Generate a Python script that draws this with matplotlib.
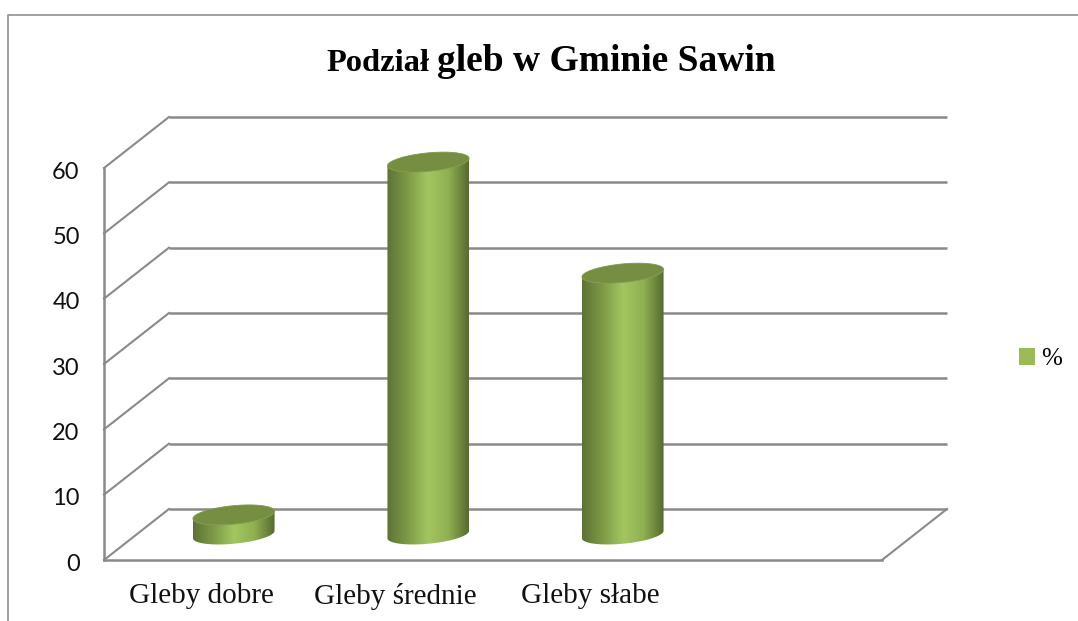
import matplotlib
matplotlib.use("Agg")
import matplotlib.pyplot as plt
import numpy as np
from matplotlib.colors import LinearSegmentedColormap
from matplotlib.lines import Line2D
from matplotlib.patches import Patch, PathPatch
from matplotlib.path import Path
from matplotlib.transforms import Affine2D, ScaledTranslation

categories = ["Gleby dobre", "Gleby średnie", "Gleby słabe"]
values = [3, 57, 40]
yticks = [0, 10, 20, 30, 40, 50, 60]
legend_label = "%"

W, H = 1078, 621
GRAY = "#8a8a8a"
depth_x, depth_y = 65, 51

fig = plt.figure(figsize=(W / 100, H / 100), dpi=100, facecolor="white")
ax = fig.add_axes([104 / W, (H - 560) / H, (882 - 104) / W, (560 - 168) / H])
ax.patch.set_alpha(0)
ax.set_xlim(0, 4)
ax.set_ylim(0, 60)

back = ax.transData + Affine2D().translate(depth_x, depth_y)
mid = ax.transData + Affine2D().translate(depth_x / 2, depth_y / 2)

# outer frame runs off the picture on the right and at the bottom
fig.add_artist(Line2D([8 / W, 8 / W, 1], [0, (H - 15) / H, (H - 15) / H], color="#909090", lw=1.2))

# walls and floor
for t in yticks:
    ax.plot([0, 4], [t, t], color=GRAY, lw=1.8, transform=back, clip_on=False, zorder=1,
            solid_capstyle="butt")
    p0 = ax.transData.transform((0, t))
    ax.plot([p0[0], p0[0] + depth_x], [p0[1], p0[1] + depth_y], color=GRAY, lw=1.5,
            transform=Affine2D(), clip_on=False, zorder=1)
p1 = ax.transData.transform((4, 0))
ax.plot([p1[0], p1[0] + depth_x], [p1[1], p1[1] + depth_y], color=GRAY, lw=1.5,
        transform=Affine2D(), clip_on=False, zorder=1)

# cylinders
shade = LinearSegmentedColormap.from_list(
    "shade", ["#5d7236", "#7d9a46", "#a3c660", "#90b052", "#566a31"])
sx = (882 - 104) / 4
sy = (560 - 168) / 60
a, b, tilt = 41, 9.2, np.radians(5.5)


def arc(cx, cy, t):
    px = a * np.cos(t) * np.cos(tilt) - b * np.sin(t) * np.sin(tilt)
    py = a * np.cos(t) * np.sin(tilt) + b * np.sin(t) * np.cos(tilt)
    return np.column_stack([cx + px / sx, cy + py / sy])


grad = np.linspace(0, 1, 256).reshape(1, -1)
for i, v in enumerate(values):
    cx = i + 0.5
    lower = arc(cx, 0, np.linspace(np.pi, 2 * np.pi, 60))
    upper = arc(cx, v, np.linspace(2 * np.pi, np.pi, 60))
    body = Path(np.vstack([lower, upper, lower[:1]]), closed=True)
    im = ax.imshow(grad, cmap=shade, aspect="auto", transform=mid, zorder=3,
                   extent=[cx - a / sx, cx + a / sx, -3, v + 3], interpolation="bilinear")
    im.set_clip_box(fig.bbox)
    im.set_clip_path(body, transform=mid)
    top = arc(cx, v, np.linspace(0, 2 * np.pi, 120))
    ax.add_patch(PathPatch(Path(top, closed=True), fc="#758e42", ec="#7f9a49", lw=0.6,
                           transform=mid, zorder=4, clip_on=False))

ax.set_xlim(0, 4)
ax.set_ylim(0, 60)
ax.set_xticks([i + 0.5 for i in range(len(categories))])
ax.set_xticklabels(categories, family="Liberation Serif", fontsize=21, color="#111111")
ax.set_yticks(yticks)
ax.set_yticklabels(yticks, family="Lato", fontsize=17, color="#111111")
ax.tick_params(axis="x", length=0, pad=16.5)
ax.tick_params(axis="y", length=0, pad=17.5)
# tick digits sit slightly under the grid level in the original
nudge = ScaledTranslation(0, -1.5 / 72, fig.dpi_scale_trans)
for lab in ax.get_yticklabels():
    lab.set_transform(lab.get_transform() + nudge)
for s in ["top", "right"]:
    ax.spines[s].set_visible(False)
for s in ["left", "bottom"]:
    ax.spines[s].set_color(GRAY)
    ax.spines[s].set_linewidth(1.8)

# title has two sizes in the original
fig.text(326 / W, (H - 71) / H, "Podział", family="Liberation Serif", weight="bold",
         fontsize=23.4, color="black")
fig.text(437 / W, (H - 71) / H, "gleb w Gminie Sawin", family="Liberation Serif", weight="bold",
         fontsize=27, color="black")

leg = ax.legend(handles=[Patch(fc="#9bbb59", ec="none", label=legend_label)], frameon=False,
                loc="center left", bbox_to_anchor=(996 / W, (H - 359) / H),
                bbox_transform=fig.transFigure, handlelength=0.65, handleheight=0.65,
                handletextpad=0.25, prop={"family": "Liberation Serif", "size": 18})

fig.savefig("out.png", dpi=100)
